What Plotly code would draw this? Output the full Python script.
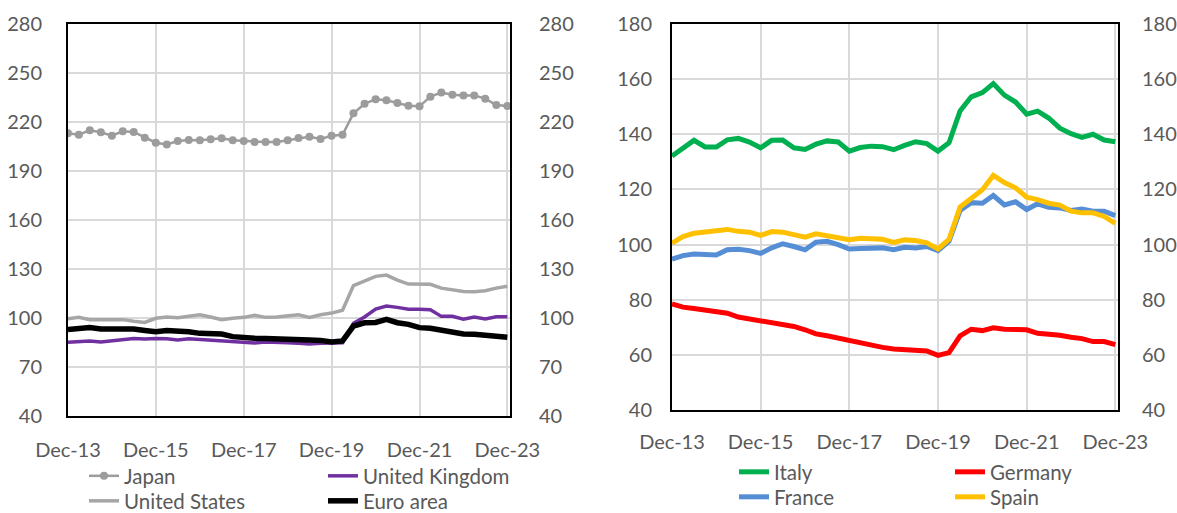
import pandas as pd
import plotly.graph_objects as go

# Quarterly observations, Dec-2013 .. Dec-2023 (41 quarters)
quarters = pd.date_range("2013-12-31", periods=41, freq="QE")
tick_dates = ["2013-12-31", "2015-12-31", "2017-12-31", "2019-12-31", "2021-12-31", "2023-12-31"]
tick_labels = ["Dec-13", "Dec-15", "Dec-17", "Dec-19", "Dec-21", "Dec-23"]

japan = [213.1, 212.2, 214.9, 213.7, 211.6, 214.3, 213.9, 210.4, 207.3, 206.3,
         208.4, 209.0, 208.8, 209.4, 210.0, 208.8, 208.4, 207.7, 207.7, 207.7,
         208.8, 210.2, 211.0, 209.6, 211.6, 212.2, 225.3, 231.2, 233.9, 233.3,
         231.6, 230.0, 229.6, 235.5, 238.0, 236.7, 236.3, 236.3, 234.3, 230.4, 229.8]
united_states = [99.5, 100.4, 99.0, 99.0, 99.5, 99.0, 98.0, 97.3, 99.8, 100.6,
                 100.2, 101.0, 102.0, 100.6, 99.0, 99.8, 100.4, 101.6, 100.4, 100.6,
                 101.4, 102.0, 100.4, 102.0, 103.0, 104.7, 119.8, 122.5, 125.5, 126.3,
                 123.2, 120.8, 120.8, 120.6, 118.3, 117.1, 116.3, 116.1, 116.7, 118.3, 119.4]
united_kingdom = [85.1, 85.3, 85.9, 85.3, 86.1, 86.5, 87.5, 87.1, 87.5, 87.3,
                  86.5, 87.3, 86.9, 86.3, 85.9, 85.9, 85.5, 84.7, 85.3, 85.3,
                  84.9, 84.5, 84.1, 84.5, 84.9, 84.9, 96.7, 100.6, 105.5, 107.3,
                  106.5, 105.3, 105.3, 105.1, 101.0, 101.0, 99.2, 100.6, 99.4, 100.8, 100.8]
euro_area = [93.0, 93.9, 94.2, 93.3, 93.2, 93.9, 93.2, 92.4, 91.6, 92.4,
             92.4, 91.6, 90.6, 90.6, 90.2, 88.6, 87.8, 87.6, 87.4, 87.0,
             86.7, 86.5, 86.5, 86.3, 85.3, 86.0, 95.1, 97.1, 97.3, 99.2,
             97.1, 96.1, 94.1, 93.7, 92.6, 91.4, 90.2, 90.0, 89.6, 89.0, 88.2]

italy = [132.1, 135.1, 137.8, 135.4, 135.4, 138.0, 138.5, 137.2, 135.1, 137.8,
         137.9, 135.1, 134.5, 136.4, 137.6, 137.2, 133.9, 135.2, 135.7, 135.5,
         134.4, 136.0, 137.3, 136.6, 133.9, 136.9, 148.5, 153.6, 155.1, 158.4,
         154.2, 151.7, 147.3, 148.4, 145.9, 142.2, 140.2, 138.9, 140.0, 137.9, 137.3]
germany = [78.5, 77.3, 76.8, 76.1, 75.5, 75.1, 73.7, 73.0, 72.2, 71.7,
           71.1, 70.3, 69.1, 67.6, 66.9, 66.0, 65.1, 64.2, 63.2, 62.7,
           62.1, 61.9, 61.5, 61.4, 59.8, 60.8, 66.9, 69.3, 68.8, 69.8,
           69.3, 69.1, 69.1, 67.8, 67.6, 67.1, 66.4, 65.9, 64.8, 64.8, 63.7]
france = [94.7, 96.0, 96.6, 96.6, 96.2, 98.1, 98.3, 97.8, 96.8, 98.8,
          100.3, 99.3, 98.1, 100.9, 101.2, 100.0, 98.4, 98.6, 98.8, 98.8,
          98.1, 99.0, 98.8, 99.3, 97.8, 101.2, 112.4, 115.2, 115.0, 117.8,
          114.4, 115.5, 112.7, 114.8, 113.5, 113.3, 112.4, 112.9, 112.1, 112.1, 110.5]
spain = [100.5, 102.9, 104.1, 104.5, 105.1, 105.5, 104.8, 104.5, 103.3, 104.7,
         104.5, 103.6, 102.7, 103.9, 103.3, 102.4, 101.8, 102.3, 101.9, 101.9,
         100.8, 101.7, 101.5, 100.6, 98.4, 101.9, 113.6, 117.0, 119.9, 125.1,
         122.5, 120.6, 117.2, 116.3, 115.0, 114.3, 112.1, 111.5, 111.5, 110.2, 107.7]

W, H = 1177, 513
FONT = dict(family="Lato, 'Open Sans', sans-serif", size=20, color="#595959")
LEGEND_FONT = dict(family="Lato, 'Open Sans', sans-serif", size=20.5, color="#595959")
GRID = "#d9d9d9"


def px_x(p):
    return p / W


def px_y(p):
    return 1 - p / H


fig = go.Figure()

# ---- left panel ----
fig.add_trace(go.Scatter(x=quarters, y=japan, name="Japan", mode="lines+markers",
                         line=dict(color="#9c9c9c", width=2.5),
                         marker=dict(size=8, color="#9c9c9c"),
                         xaxis="x", yaxis="y", legend="legend"))
fig.add_trace(go.Scatter(x=quarters, y=united_states, name="United States", mode="lines",
                         line=dict(color="#a6a6a6", width=3.5),
                         xaxis="x", yaxis="y", legend="legend2"))
fig.add_trace(go.Scatter(x=quarters, y=united_kingdom, name="United Kingdom", mode="lines",
                         line=dict(color="#7030a0", width=3.5),
                         xaxis="x", yaxis="y", legend="legend3"))
fig.add_trace(go.Scatter(x=quarters, y=euro_area, name="Euro area", mode="lines",
                         line=dict(color="#000000", width=5.5),
                         xaxis="x", yaxis="y3", legend="legend4"))

# ---- right panel ----
fig.add_trace(go.Scatter(x=quarters, y=italy, name="Italy", mode="lines",
                         line=dict(color="#00b050", width=5),
                         xaxis="x2", yaxis="y2", legend="legend5"))
fig.add_trace(go.Scatter(x=quarters, y=france, name="France", mode="lines",
                         line=dict(color="#558ed5", width=5),
                         xaxis="x2", yaxis="y2", legend="legend6"))
fig.add_trace(go.Scatter(x=quarters, y=germany, name="Germany", mode="lines",
                         line=dict(color="#ff0000", width=5),
                         xaxis="x2", yaxis="y2", legend="legend7"))
fig.add_trace(go.Scatter(x=quarters, y=spain, name="Spain", mode="lines",
                         line=dict(color="#ffc000", width=5),
                         xaxis="x2", yaxis="y4", legend="legend8"))

xrange_ = ["2013-12-31", "2024-01-22"]
common_x = dict(range=xrange_, tickvals=tick_dates, ticktext=tick_labels,
                showgrid=True, gridcolor=GRID, gridwidth=1.5,
                showline=True, linecolor="black", linewidth=2, mirror=True,
                ticks="outside", tickcolor="rgba(0,0,0,0)", zeroline=False,
                tickfont=FONT, automargin=False)
common_y = dict(showgrid=True, gridcolor=GRID, gridwidth=1.5,
                showline=True, linecolor="black", linewidth=2, mirror=True,
                ticks="outside", tickcolor="rgba(0,0,0,0)", zeroline=False,
                tickfont=FONT, automargin=False)
common_y_right = dict(side="right", showgrid=False, zeroline=False, showline=False,
                      ticks="outside", tickcolor="rgba(0,0,0,0)", tickfont=FONT,
                      automargin=False)

legend_common = dict(orientation="v", font=LEGEND_FONT, bgcolor="rgba(0,0,0,0)",
                     xanchor="left", yanchor="middle", borderwidth=0,
                     itemclick=False, itemdoubleclick=False)

# one legend box per entry: (legend id, text left edge px, row centre px)
legend_slots = [("legend", 124, 476), ("legend2", 124, 501),
                ("legend3", 363, 476), ("legend4", 363, 501),
                ("legend5", 774, 472), ("legend6", 774, 497),
                ("legend7", 990, 472), ("legend8", 990, 497)]
legend_layout = {lid: dict(legend_common, x=px_x(tx - 40), y=px_y(cy))
                 for lid, tx, cy in legend_slots}

fig.update_layout(
    width=W, height=H,
    margin=dict(l=0, r=0, t=0, b=0, autoexpand=False),
    paper_bgcolor="white", plot_bgcolor="white",
    showlegend=True,
    xaxis=dict(common_x, domain=[px_x(68), px_x(510)], anchor="y", ticklen=15),
    yaxis=dict(common_y, domain=[px_y(416), px_y(24)], anchor="x",
               range=[40, 280], tick0=40, dtick=30, ticklen=20),
    yaxis3=dict(common_y_right, overlaying="y", anchor="x", matches="y",
                range=[40, 280], tick0=40, dtick=30, ticklen=24),
    xaxis2=dict(common_x, domain=[px_x(672), px_x(1118)], anchor="y2", ticklen=13),
    yaxis2=dict(common_y, domain=[px_y(410), px_y(24)], anchor="x2",
                range=[40, 180], tick0=40, dtick=20, ticklen=14),
    yaxis4=dict(common_y_right, overlaying="y2", anchor="x2", matches="y2",
                range=[40, 180], tick0=40, dtick=20, ticklen=19),
    **legend_layout,
)

fig.write_html("out.html")
